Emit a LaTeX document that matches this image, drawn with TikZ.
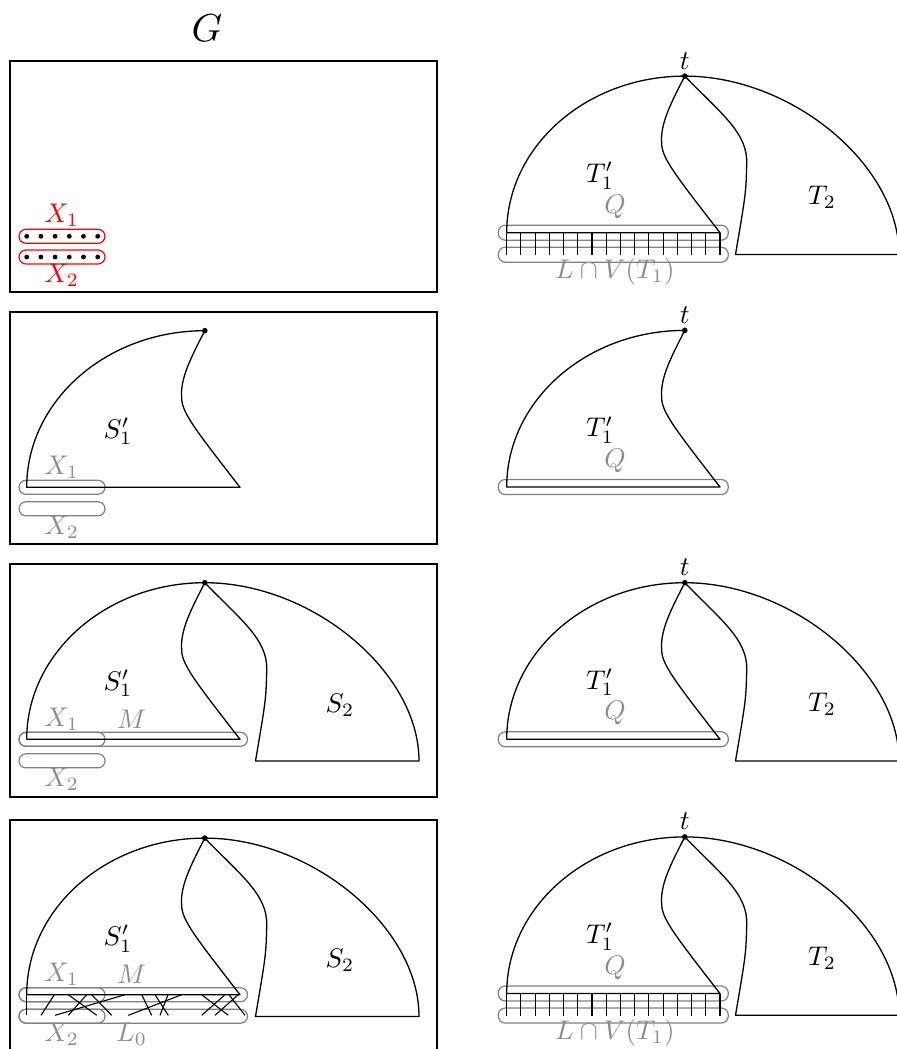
\documentclass[tikz,border=0pt]{standalone}
\definecolor{pillgray}{gray}{0.5}
\definecolor{txtgray}{gray}{0.55}
\newcommand{\lb}[1]{\scalebox{1.35}{$#1$}}
\begin{document}
\begin{tikzpicture}[x=0.5pt,y=-0.5pt,
  outline/.style={line width=0.65pt, line join=round},
  frame/.style={line width=0.6pt},
  pill/.style={draw=pillgray, line width=0.6pt, rounded corners=3.5pt},
  redpill/.style={draw=red, line width=0.6pt, rounded corners=3.5pt},
  glab/.style={text=txtgray, inner sep=0pt},
  lab/.style={inner sep=0pt},
  tick/.style={line width=0.55pt},
  full/.pic={
    \draw[outline] (26.7,0) -- (240,0) .. controls (195,-58) and (181.7,-75) .. (181.7,-89.3)
       .. controls (180,-108) and (190,-128) .. (204.8,-156.6);
    \draw[outline] (26.7,0) .. controls (26.7,-86.4) and (106.6,-156.6) .. (204.8,-156.6)
       .. controls (312,-156.6) and (419,-67.5) .. (419,21.7)
       -- (255.5,21.7) .. controls (266,-40) .. (266.7,-69)
       .. controls (268,-100) and (240,-120) .. (204.8,-156.6);
    \fill (204.8,-156.6) circle (1.4pt);
  },
  half/.pic={
    \draw[outline] (26.7,0) .. controls (26.7,-86.4) and (106.6,-156.6) .. (204.8,-156.6)
       .. controls (190,-128) and (180,-108) .. (181.7,-89.3)
       .. controls (181.7,-75) and (195,-58) .. (240,0) -- cycle;
    \fill (204.8,-156.6) circle (1.4pt);
  },
]
\useasboundingbox (0,0) rectangle (896,1049);

\node[inner sep=0pt] (G) at (207,28) {\scalebox{1.95}{$G$}};

% ---------- left column ----------
\draw[frame] (10,61) rectangle (437,292);
\draw[frame] (10,312) rectangle (437,544);
\draw[frame] (10,564) rectangle (437,797);
\draw[frame] (10,820) rectangle (437,1060);

% panel 1
\draw[redpill] (19,229.3) rectangle (105,243.3);
\draw[redpill] (19,250) rectangle (105,264);
\foreach \i in {0,...,5} {
  \fill ({26.7+\i*14.2},236.3) circle (1.2pt);
  \fill ({26.7+\i*14.2},257) circle (1.2pt);
}
\node[lab, text=red] (x1r) at (61.7,215) {\lb{X_1}};
\node[lab, text=red] (x2r) at (61.7,275) {\lb{X_2}};

% panel 2
\begin{scope}[shift={(0,487.3)}]
  \draw[pill] (19,-7) rectangle (105,7);
  \draw[pill] (19,14.5) rectangle (105,28.5);
  \pic {half};
  \node[lab] (s1a) at (118,-56) {\lb{S_1'}};
  \node[glab] (x1a) at (61.7,-20.5) {\lb{X_1}};
  \node[glab] (x2a) at (61.7,40) {\lb{X_2}};
\end{scope}

% panel 3
\begin{scope}[shift={(0,739.3)}]
  \draw[pill] (19,-7) rectangle (105,7);
  \draw[pill] (19,-7) rectangle (247.5,7);
  \draw[pill] (19,14.5) rectangle (105,28.5);
  \pic {full};
  \node[lab] (s1b) at (118,-56) {\lb{S_1'}};
  \node[lab] (s2b) at (340,-34) {\lb{S_2}};
  \node[glab] (x1b) at (61.7,-20.5) {\lb{X_1}};
  \node[glab] (mb) at (131.7,-20.5) {\lb{M}};
  \node[glab] (x2b) at (61.7,40) {\lb{X_2}};
\end{scope}

% panel 4
\begin{scope}[shift={(0,994.7)}]
  \draw[pill] (19,-7) rectangle (105,7);
  \draw[pill] (19,-7) rectangle (247.5,7);
  \draw[pill] (19,14.5) rectangle (105,28.5);
  \draw[pill] (19,14.5) rectangle (247.5,28.5);
  \pic {full};
  \foreach \a/\b in {26.7/26.7, 54.3/41, 68.3/96.7, 86.7/68.3, 91.7/111.7,
                     125/55, 141.7/151.7, 155/168.3, 181.7/128.3, 168/160,
                     201.7/228.3, 225/201.7, 238.3/215, 229/245} {
    \draw[tick] (\a,0) -- (\b,20.6);
  }
  \node[lab] (s1c) at (118,-56) {\lb{S_1'}};
  \node[lab] (s2c) at (340,-34) {\lb{S_2}};
  \node[glab] (x1c) at (61.7,-20.5) {\lb{X_1}};
  \node[glab] (mc) at (131.7,-20.5) {\lb{M}};
  \node[glab] (x2c) at (61.7,40) {\lb{X_2}};
  \node[glab] (l0c) at (131.7,40) {\lb{L_0}};
\end{scope}

% ---------- right column ----------
% panel 1
\begin{scope}[shift={(480,232.7)}]
  \draw[pill] (18.3,-7.5) rectangle (248.3,7.5);
  \draw[pill] (18.3,14.5) rectangle (248.3,29.5);
  \pic {full};
  \foreach \i in {0,...,15} \draw[tick] ({26.7+\i*14.22},0) -- ++(0,22);
  \node[lab] (ta) at (204.8,-172) {\lb{t}};
  \node[lab] (t1a) at (120,-57) {\lb{T_1'}};
  \node[glab] (qa) at (135,-26) {\lb{Q}};
  \node[lab] (t2a) at (342,-35) {\lb{T_2}};
  \node[glab] (la) at (135,39) {\lb{L\cap V(T_1)}};
\end{scope}

% panel 2
\begin{scope}[shift={(480,487)}]
  \draw[pill] (18.3,-7.5) rectangle (248.3,7.5);
  \pic {half};
  \node[lab] (tb) at (204.8,-172) {\lb{t}};
  \node[lab] (t1b) at (120,-57) {\lb{T_1'}};
  \node[glab] (qb) at (135,-26) {\lb{Q}};
\end{scope}

% panel 3
\begin{scope}[shift={(480,739.3)}]
  \draw[pill] (18.3,-7.5) rectangle (248.3,7.5);
  \pic {full};
  \node[lab] (tc) at (204.8,-172) {\lb{t}};
  \node[lab] (t1c) at (120,-57) {\lb{T_1'}};
  \node[glab] (qc) at (135,-26) {\lb{Q}};
  \node[lab] (t2c) at (342,-35) {\lb{T_2}};
\end{scope}

% panel 4
\begin{scope}[shift={(480,993.5)}]
  \draw[pill] (18.3,-7.5) rectangle (248.3,7.5);
  \draw[pill] (18.3,14.5) rectangle (248.3,29.5);
  \pic {full};
  \foreach \i in {0,...,15} \draw[tick] ({26.7+\i*14.22},0) -- ++(0,22);
  \node[lab] (td) at (204.8,-172) {\lb{t}};
  \node[lab] (t1d) at (120,-57) {\lb{T_1'}};
  \node[glab] (qd) at (135,-26) {\lb{Q}};
  \node[lab] (t2d) at (342,-35) {\lb{T_2}};
  \node[glab] (ld) at (135,39) {\lb{L\cap V(T_1)}};
\end{scope}
\end{tikzpicture}
\end{document}
